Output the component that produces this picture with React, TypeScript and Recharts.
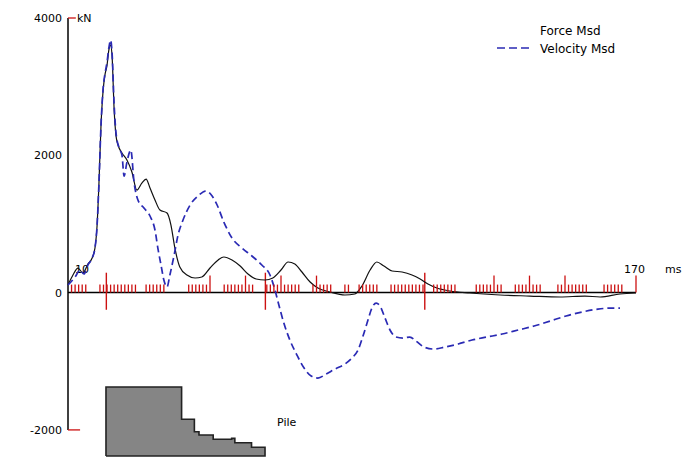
import React from 'react';
import {
  ComposedChart,
  Line,
  Area,
  Scatter,
  XAxis,
  YAxis,
  ReferenceLine,
  Customized,
} from 'recharts';

// ---- Data ----
const forceT = [10, 11.4, 12.8, 14.2, 15.6, 16.8, 17.6, 18.2, 18.7, 19.3, 19.9, 20.4, 21.0, 21.5, 22.0, 22.4, 23.0, 23.5, 24.1, 25.2, 26.6, 28.0, 29.4, 30.8, 32.0, 33.1, 34.5, 35.9, 37.9, 39.0, 40.1, 41.5, 43.5, 45.8, 47.7, 50.0, 52.3, 53.9, 56.2, 58.5, 60.7, 63.0, 65.5, 67.7, 70.0, 72.0, 73.9, 75.9, 78.2, 80.4, 83.8, 88.0, 90.8, 92.8, 95.1, 97.0, 99.0, 101.3, 104.1, 106.9, 109.2, 111.4, 113.9, 117.6, 123.2, 131.7, 140.1, 148.6, 155.6, 159.9, 165.5, 170];
const forceKN = [111, 256, 358, 286, 416, 504, 650, 985, 1567, 2440, 2950, 3168, 3314, 3532, 3605, 3460, 2659, 2294, 2150, 2034, 1931, 1756, 1494, 1596, 1654, 1523, 1349, 1203, 1159, 984, 650, 373, 256, 213, 227, 358, 475, 519, 475, 387, 271, 198, 184, 213, 329, 446, 417, 300, 154, 67, 9, -35, -20, 96, 329, 446, 387, 315, 300, 256, 198, 125, 67, 23, -6, -35, -50, -64, -50, -64, -20, -6];

const velT = [10, 12.0, 13.4, 14.5, 15.6, 16.8, 17.6, 18.2, 18.7, 19.3, 19.9, 20.4, 21.0, 21.5, 22.0, 22.4, 23.0, 23.5, 24.4, 25.2, 25.8, 26.6, 27.7, 28.6, 29.7, 31.4, 33.1, 34.5, 35.4, 36.2, 37.0, 37.9, 38.7, 39.9, 41.0, 42.4, 44.4, 46.6, 48.9, 50.6, 52.0, 53.9, 56.2, 59.0, 61.8, 64.6, 66.9, 68.3, 69.4, 70.8, 72.5, 74.5, 76.5, 78.5, 80.4, 82.7, 85.2, 88.0, 90.0, 91.7, 93.1, 94.5, 95.6, 96.8, 97.9, 99.3, 100.7, 102.4, 104.4, 106.3, 108.0, 110.3, 113.1, 116.2, 119.9, 123.8, 128.0, 132.3, 136.8, 141.3, 145.8, 150.3, 154.8, 159.3, 163.2, 165.5];
const velKN = [111, 227, 329, 271, 402, 504, 650, 985, 1567, 2440, 2979, 3183, 3358, 3561, 3678, 3503, 2732, 2338, 2105, 2004, 1698, 1902, 2076, 1611, 1349, 1232, 1116, 912, 621, 402, 184, 82, 256, 548, 839, 1057, 1276, 1407, 1480, 1407, 1276, 1028, 795, 650, 533, 402, 256, 38, -181, -443, -691, -910, -1099, -1216, -1245, -1187, -1114, -1041, -953, -837, -633, -400, -225, -152, -196, -370, -545, -647, -662, -647, -705, -793, -822, -793, -749, -691, -647, -603, -545, -487, -414, -341, -283, -240, -225, -225];

// x-axis rug ticks (ms)
const rugMs = [
  11, 12, 13, 14, 15,
  19, 20, 21, 22, 23, 24, 25, 26, 27, 28, 29,
  32, 33, 34, 35, 36, 37,
  44, 45, 46, 47, 48, 49, 50,
  54, 55, 56, 57, 58, 59, 60, 61, 62,
  66, 67, 68, 69, 70, 71, 72, 73, 74, 75,
  79, 80, 81, 82, 83, 84,
  88, 89,
  92, 93, 94, 95, 96, 97,
  101, 102, 103, 104, 105, 106, 107, 108, 109, 110,
  113, 114, 115, 116, 117, 118, 119,
  125, 126, 127, 128, 129, 130, 131, 132,
  136, 137, 138, 139, 140, 141, 142, 143,
  148, 149, 150, 151, 152, 153, 154, 155, 156,
  161, 162, 163, 164, 165, 166,
  170,
];
const rugTallMs = [50, 60, 70, 80, 130, 140, 150, 170];

// wave-travel markers (ms)
const markerMs = [20.8, 65.6, 110.5];

// pile profile (relative impedance, step after)
const pileT = [20.7, 20.7, 42.0, 45.6, 46.9, 50.9, 56.1, 57.0, 61.7, 65.5, 65.5, 20.7];
const pileZ = [0, 1.0, 0.532, 0.352, 0.304, 0.242, 0.256, 0.193, 0.126, 0.126, 0, 0];

const yTicks = [-2000, 0, 2000, 4000];
const xLabels = ['10', '170'];

const forceData = forceT.map((t, i) => ({ t, v: forceKN[i] }));
const velData = velT.map((t, i) => ({ t, v: velKN[i] }));
const rugData = rugMs.map((t) => ({ t, v: 0, tall: rugTallMs.includes(t) }));
const pileData = pileT.map((t, i) => ({ t, p: pileZ[i] }));

const RED = '#cc1111';
const BLUE = '#2a2ab4';
const FONT = 'DejaVu Sans';

const RugTick = (props: any) => {
  const { cx, cy, payload } = props;
  if (cx == null || cy == null) return null;
  const len = payload && payload.tall ? 17 : 8;
  return <line x1={cx} x2={cx} y1={cy} y2={cy - len} stroke={RED} strokeWidth={1.3} />;
};

const Annotations = () => (
  <g fontFamily={FONT} fill="#000">
    <text x={77} y={18} fontSize={11} dominantBaseline="central">kN</text>
    <text x={75} y={269} fontSize={11} dominantBaseline="central">{xLabels[0]}</text>
    <text x={624} y={269} fontSize={11} dominantBaseline="central">{xLabels[1]}</text>
    <text x={665} y={269} fontSize={11} dominantBaseline="central">ms</text>
    <text x={277} y={422} fontSize={11} dominantBaseline="central">Pile</text>
    <text x={540} y={31} fontSize={12} dominantBaseline="central">Force Msd</text>
    <line x1={497} x2={531} y1={48} y2={48} stroke={BLUE} strokeWidth={1.6} strokeDasharray="8 4" />
    <text x={540} y={49} fontSize={12} dominantBaseline="central">Velocity Msd</text>
  </g>
);

export default function App() {
  return (
    <div style={{ position: 'absolute', left: 0, top: 0, background: '#fff' }}>
      <ComposedChart
        width={696}
        height={470}
        margin={{ top: 18, right: 60, bottom: 14, left: 0 }}
      >
        <XAxis dataKey="t" type="number" domain={[10, 170]} hide />
        <YAxis
          yAxisId="kn"
          type="number"
          domain={[-2380, 4000]}
          ticks={yTicks}
          width={68}
          axisLine={false}
          tickLine={false}
          tickSize={6}
          tickMargin={0}
          tick={{ fontFamily: FONT, fontSize: 11, fill: '#000' }}
        />
        <YAxis yAxisId="pile" type="number" domain={[0, 6.348]} hide />

        <Area
          yAxisId="pile"
          data={pileData}
          dataKey="p"
          type="stepAfter"
          baseValue={0}
          fill="#858585"
          fillOpacity={1}
          stroke="#222"
          strokeWidth={1.6}
          isAnimationActive={false}
          dot={false}
          activeDot={false}
        />

        <ReferenceLine yAxisId="kn" segment={[{ x: 10, y: -2000 }, { x: 10, y: 4000 }]} stroke="#000" strokeWidth={1.5} ifOverflow="visible" />
        <ReferenceLine yAxisId="kn" segment={[{ x: 10, y: 4000 }, { x: 12.2, y: 4000 }]} stroke={RED} strokeWidth={1.3} ifOverflow="visible" />
        <ReferenceLine yAxisId="kn" segment={[{ x: 10, y: -2000 }, { x: 13.4, y: -2000 }]} stroke={RED} strokeWidth={1.3} ifOverflow="visible" />
        <ReferenceLine yAxisId="kn" segment={[{ x: 10, y: 0 }, { x: 170, y: 0 }]} stroke="#000" strokeWidth={1.5} ifOverflow="visible" />
        {markerMs.map((m) => (
          <ReferenceLine
            key={m}
            yAxisId="kn"
            segment={[{ x: m, y: -250 }, { x: m, y: 290 }]}
            stroke={RED}
            strokeWidth={1.4}
            ifOverflow="visible"
          />
        ))}

        <Scatter
          yAxisId="kn"
          data={rugData}
          dataKey="v"
          shape={RugTick}
          isAnimationActive={false}
        />

        <Line
          yAxisId="kn"
          data={forceData}
          dataKey="v"
          type="monotone"
          stroke="#111"
          strokeWidth={1.2}
          dot={false}
          activeDot={false}
          isAnimationActive={false}
        />
        <Line
          yAxisId="kn"
          data={velData}
          dataKey="v"
          type="monotone"
          stroke={BLUE}
          strokeWidth={1.7}
          strokeDasharray="7 4"
          dot={false}
          activeDot={false}
          isAnimationActive={false}
        />
        <Customized component={Annotations} />
      </ComposedChart>
    </div>
  );
}
